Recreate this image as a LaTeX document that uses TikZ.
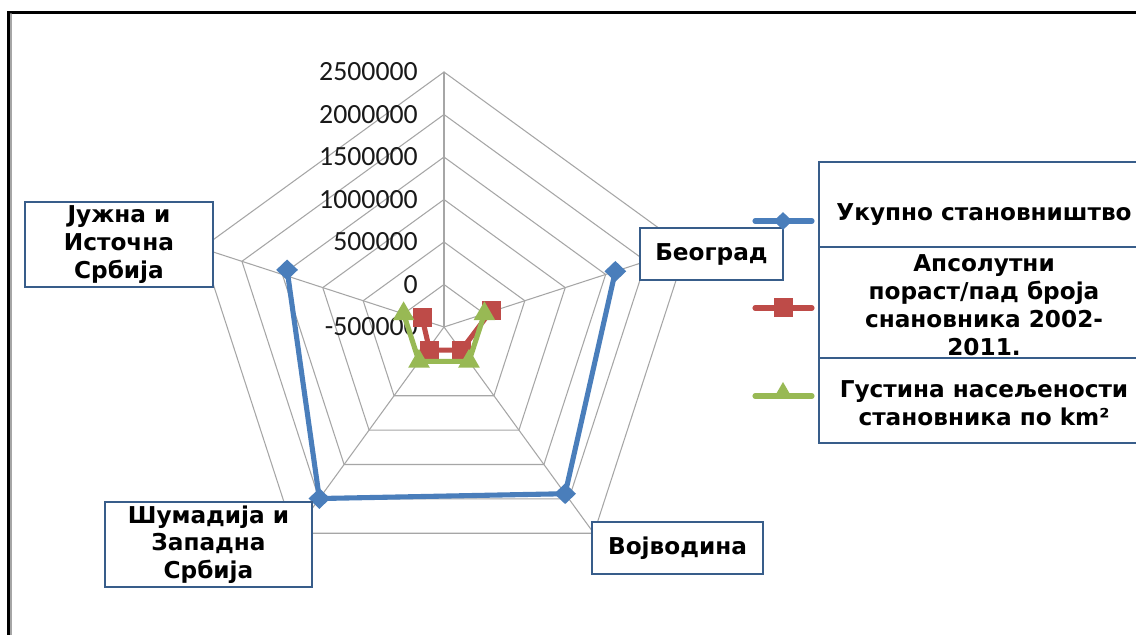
\documentclass[tikz,border=0pt]{standalone}
\usepackage{fontspec}
\newfontfamily\lblfont{DejaVu Sans}
\newfontfamily\numfont{Carlito}
\usepackage{tikz}
\usetikzlibrary{shapes.geometric}
\definecolor{serblue}{RGB}{74,126,187}
\definecolor{serred}{RGB}{190,75,72}
\definecolor{sergreen}{RGB}{152,185,84}
\definecolor{boxblue}{RGB}{56,93,138}
\definecolor{gridgray}{RGB}{166,166,166}
\tikzset{
  gridln/.style={color=gridgray, line width=0.6pt},
  catbox/.style={draw=boxblue, line width=1.2pt, fill=white, align=center, inner sep=0pt,
    font=\lblfont\bfseries\fontsize{13.2pt}{15.8pt}\selectfont},
  legrect/.style={draw=boxblue, line width=1.2pt, fill=white},
  legtext/.style={align=center, inner sep=0pt,
    font=\lblfont\bfseries\fontsize{13.2pt}{16pt}\selectfont},
  numlbl/.style={anchor=east, inner sep=0pt, text=black!90,
    font=\numfont\fontsize{15.8pt}{18pt}\selectfont},
  serA/.style={color=serblue, line width=2.9pt, line join=round},
  serB/.style={color=serred, line width=2.9pt, line join=round},
  serC/.style={color=sergreen, line width=2.9pt, line join=round},
  markA/.style={diamond, fill=serblue, inner sep=0pt, minimum width=0.44cm, minimum height=0.42cm},
  markB/.style={rectangle, fill=serred, inner sep=0pt, minimum size=0.38cm},
  markC/.style={regular polygon, regular polygon sides=3, fill=sergreen, inner sep=0pt, minimum size=0.5cm}
}
\begin{document}
\begin{tikzpicture}[x=0.02cm,y=0.02cm,line cap=round]
\useasboundingbox (0,0) rectangle (1136,635);
\fill[white] (0,0) rectangle (1136,635);
% outer frame
\draw[black, line width=1.7pt] (1145,622.8) -- (8.3,622.8) -- (8.3,-5);
\draw[black!35, line width=1.1pt] (11.4,621) -- (11.4,-5);

\begin{scope}[shift={(444,308)},x=0.85cm,y=0.85cm]
  \foreach \r in {1,...,6}
    \draw[gridln] (90:\r) -- (18:\r) -- (-54:\r) -- (-126:\r) -- (162:\r) -- cycle;
  \foreach \a in {90,18,-54,-126,162}
    \draw[gridln] (0,0) -- (\a:6);
  \foreach \v [count=\i from 0] in {-500000,0,500000,1000000,1500000,2000000,2500000}
    \node[numlbl] (ax\i) at (-0.61,\i) {\v};
  % data
  \coordinate (ub) at (18:4.24);
  \coordinate (uv) at (-54:4.85);
  \coordinate (us) at (-126:4.99);
  \coordinate (uj) at (160:3.93);
  \coordinate (pb) at (19:1.17);
  \coordinate (pv) at (-53:0.68);
  \coordinate (ps) at (-122:0.64);
  \coordinate (pj) at (157:0.56);
  \coordinate (gb) at (18:1);
  \coordinate (gv) at (-54:1);
  \coordinate (gs) at (-126:1);
  \coordinate (gj) at (162:1);
  \draw[serA] (ub) -- (uv) -- (us) -- (uj);
  \foreach \p in {ub,uv,us,uj}
    \node[markA] (m\p) at (\p) {};
  \draw[serB] (pb) -- (pv) -- (ps) -- (pj);
  \foreach \p in {pb,pv,ps,pj}
    \node[markB] (m\p) at (\p) {};
  \draw[serC] (gb) -- (gv) -- (gs) -- (gj);
  \foreach \p in {gb,gv,gs,gj}
    \node[markC] (m\p) at (\p) {};
\end{scope}

% category labels
\node[catbox, minimum width=2.86cm, minimum height=1.04cm] (beo) at (711.5,381) {Београд};
\node[catbox, minimum width=3.42cm, minimum height=1.04cm] (voj) at (677.5,87) {Војводина};
\node[catbox, minimum width=4.14cm, minimum height=1.7cm] (sum) at (208.5,90.5) {Шумадија и\\Западна\\Србија};
\node[catbox, minimum width=3.76cm, minimum height=1.7cm] (juz) at (119,390.5) {Јужна и\\Источна\\Србија};

% legend
\coordinate (la1) at (755,414);
\coordinate (lb1) at (812,414);
\coordinate (la2) at (755,327);
\coordinate (lb2) at (812,327);
\coordinate (la3) at (755,239);
\coordinate (lb3) at (812,239);
\draw[serA] (la1) -- (lb1);
\node[markA, minimum width=0.38cm, minimum height=0.36cm] (lm1) at (783,414) {};
\draw[serB] (la2) -- (lb2);
\node[markB] (lm2) at (783,327) {};
\draw[serC] (la3) -- (lb3);
\node[markC, minimum size=0.44cm] (lm3) at (783,242) {};
\draw[legrect] (819,473) rectangle (1149,388);
\draw[legrect] (819,388) rectangle (1149,277);
\draw[legrect] (819,277) rectangle (1149,192);
\node[legtext] (lt1) at (984,420) {Укупно становништво};
\node[legtext] (lt2) at (984,329.5) {Апсолутни\\пораст/пад броја\\снановника 2002-\\2011.};
\node[legtext] (lt3) at (984,232) {Густина насељености\\становника по km²};
\end{tikzpicture}
\end{document}
